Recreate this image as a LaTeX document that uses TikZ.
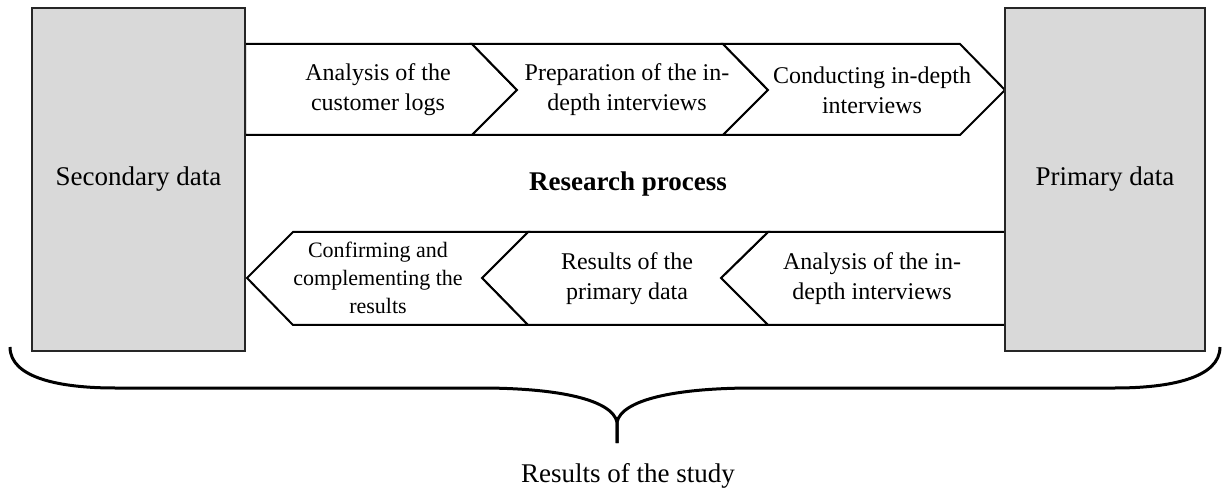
\documentclass[tikz,border=0pt]{standalone}
\usepackage{fontspec}
\setmainfont{Liberation Serif}
\usetikzlibrary{positioning}

\begin{document}
\begin{tikzpicture}[
  x=0.5pt, y=-0.5pt,
  chevron/.style={draw, line width=1pt, fill=white, line join=miter},
  databox/.style={rectangle, draw=black!85, line width=0.9pt, fill=black!15, align=center, font=\fontsize{13.5}{16}\selectfont},
  steptext/.style={align=center, font=\fontsize{12}{15}\selectfont},
  brace/.style={draw, line width=1.5pt}
]
\useasboundingbox (0,0) rectangle (1223,492);

% upper row: towards the primary data
\draw[chevron] (245,44) -- (472,44) -- (517,90) -- (472,135) -- (245,135) -- cycle;
\draw[chevron] (472,44) -- (723,44) -- (768,90) -- (723,135) -- (472,135) -- (517,90) -- cycle;
\draw[chevron] (723,44) -- (960,44) -- (1005,90) -- (960,135) -- (723,135) -- (768,90) -- cycle;

% lower row: back to the secondary data
\draw[chevron] (1005,232) -- (768,232) -- (721,278) -- (768,325) -- (1005,325) -- cycle;
\draw[chevron] (768,232) -- (528,232) -- (482,278) -- (528,325) -- (768,325) -- (721,278) -- cycle;
\draw[chevron] (528,232) -- (293,232) -- (247,278) -- (293,325) -- (528,325) -- (482,278) -- cycle;

\node[databox, minimum width=106.5pt, minimum height=171.5pt] (secondary) at (138.5,179.5) {Secondary data};
\node[databox, minimum width=100pt, minimum height=171.5pt] (primary) at (1105,179.5) {Primary data};

\node[steptext] (logs) at (378,90) {Analysis of the\\customer logs};
\node[steptext] (prep) at (627,90) {Preparation of the in-\\depth interviews};
\node[steptext] (conduct) at (872,90) {Conducting in-depth\\interviews};

\node[steptext] (anint) at (872,279) {Analysis of the in-\\depth interviews};
\node[steptext] (resprim) at (627,279) {Results of the\\primary data};
\node[steptext, font=\fontsize{11}{14}\selectfont] (confirm) at (378,278) {Confirming and\\complementing the\\results};

\node[font=\fontsize{13.5}{16}\selectfont\bfseries] (process) at (628,184) {Research process};

% brace under everything
\coordinate (tip) at (617,443);
\draw[brace] (10,347) .. controls (10,378) and (60,388) .. (115,388) -- (480,388)
  .. controls (560,388) and (612,400) .. (617,422) -- (tip);
\draw[brace] (1220,347) .. controls (1220,378) and (1170,388) .. (1115,388) -- (754,388)
  .. controls (674,388) and (622,400) .. (617,422) -- (tip);

\node[font=\fontsize{13.5}{16}\selectfont] (result) at (628,476) {Results of the study};
\end{tikzpicture}
\end{document}
